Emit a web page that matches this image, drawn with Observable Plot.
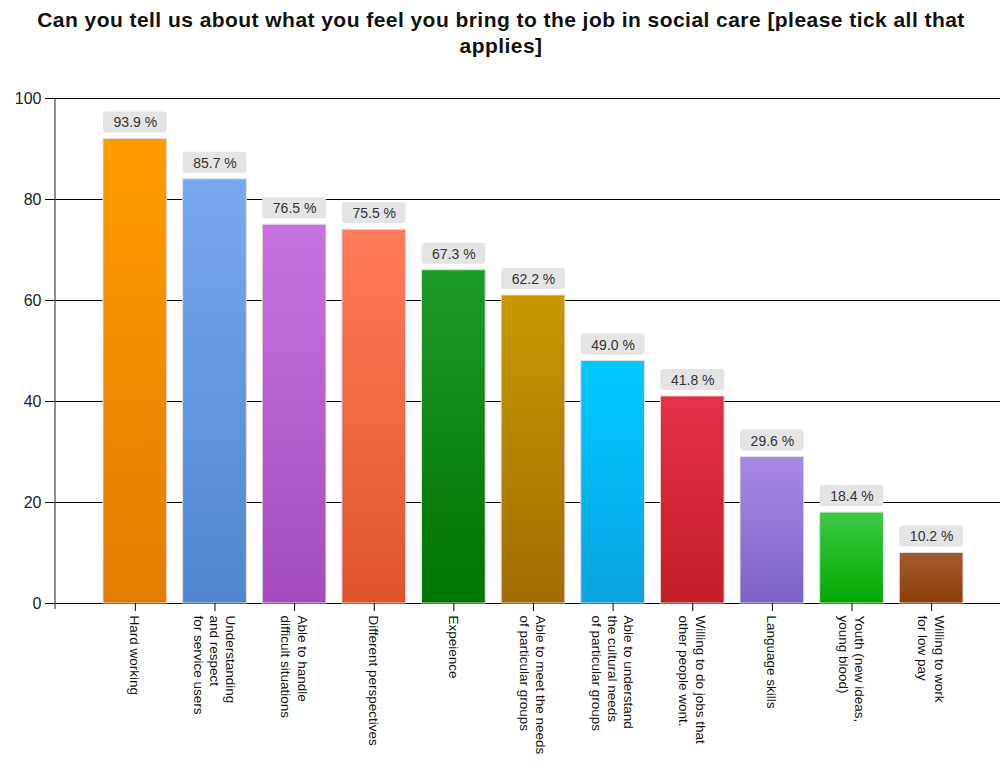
<!DOCTYPE html>
<html><head><meta charset="utf-8">
<script src="https://cdn.jsdelivr.net/npm/d3@7"></script>
<script src="https://cdn.jsdelivr.net/npm/@observablehq/plot@0.6"></script>
<style>
body{margin:0;background:#fff;font-family:"Liberation Sans",Arial,sans-serif;}
#title{height:60px;width:1002px;text-align:center;font-weight:bold;font-size:21px;letter-spacing:0.45px;line-height:26px;padding-top:7px;box-sizing:border-box;color:#111;}
#chart svg{display:block;}
</style></head><body>
<div id="title">Can you tell us about what you feel you bring to the job in social care [please tick all that<br>applies]</div>
<div id="chart"></div>
<script>
const categories = [
  "Hard working",
  "Understanding\nand respect\nfor service users",
  "Able to handle\ndifficult situations",
  "Different perspectives",
  "Expeience",
  "Able to meet the needs\nof particular groups",
  "Able to understand\nthe cultural needs\nof particular groups",
  "Willing to do jobs that\nother people wont.",
  "Language skills",
  "Youth (new ideas,\nyoung blood)",
  "Willing to work\nfor low pay"
];
const counts = [92, 84, 75, 74, 66, 61, 48, 41, 29, 18, 10];
const percentLabels = ["93.9 %", "85.7 %", "76.5 %", "75.5 %", "67.3 %", "62.2 %", "49.0 %", "41.8 %", "29.6 %", "18.4 %", "10.2 %"];
const topColors = ["#ff9d00", "#78a8f0", "#c873e0", "#ff7d58", "#1e9a2a", "#c99800", "#00c8ff", "#e4304c", "#a888e6", "#3ccc44", "#a85a30"];
const bottomColors = ["#e27c00", "#4f86cf", "#a44cbf", "#e0542c", "#007400", "#a26e00", "#0aa4e0", "#c41e26", "#7c62c8", "#00a800", "#8c3d0a"];
const yTicks = [0, 20, 40, 60, 80, 100];

const data = categories.map((c, i) => ({category: c, count: counts[i], label: percentLabels[i], fill: `url(#grad${i})`}));

const axisLine = (index, scales, values, dims) => {
  const l = d3.create("svg:line")
    .attr("x1", dims.marginLeft).attr("x2", dims.marginLeft)
    .attr("y1", scales.y(100)).attr("y2", scales.y(0) + 6)
    .attr("stroke", "#444").attr("stroke-width", 1.2);
  return l.node();
};

const chart = Plot.plot({
  width: 1002, height: 706,
  marginLeft: 55, marginRight: 2, marginTop: 38, marginBottom: 163,
  style: {fontFamily: '"Liberation Sans", Arial, sans-serif', background: "white"},
  x: {domain: categories, insetLeft: 48, insetRight: 37, paddingInner: 0.2, paddingOuter: 0, round: false, axis: null},
  y: {domain: [0, 100], axis: null},
  color: {type: "identity"},
  marks: [
    Plot.ruleY(yTicks, {stroke: "#000", strokeWidth: 1}),
    Plot.barY(data, {x: "category", y: "count", fill: "fill", stroke: "#dedede", strokeWidth: 1}),
    Plot.barY(data, {x: "category", y1: "count", y2: "count", insetTop: -27, insetBottom: 6, fill: "#e4e4e4", rx: 3}),
    Plot.text(data, {x: "category", y: "count", dy: -16, text: "label", fontSize: 14, fill: "#333"}),
    Plot.axisY({ticks: yTicks, tickSize: 10, tickPadding: 4, fontSize: 16, stroke: "#000", fill: "#222", label: null}),
    Plot.axisX({tickSize: 8, stroke: "#000", tickFormat: () => "", label: null}),
    axisLine,
    Plot.text(categories, {x: d => d, frameAnchor: "bottom", rotate: 90, textAnchor: "start", lineAnchor: "middle", dy: 12, fontSize: 13.5, lineHeight: 1.2, fill: "#111"})
  ]
});

const defs = d3.select(chart).insert("defs", ":first-child");
categories.forEach((c, i) => {
  const g = defs.append("linearGradient").attr("id", `grad${i}`)
    .attr("x1", 0).attr("y1", 0).attr("x2", 0).attr("y2", 1);
  g.append("stop").attr("offset", "0%").attr("stop-color", topColors[i]);
  g.append("stop").attr("offset", "100%").attr("stop-color", bottomColors[i]);
});
document.getElementById("chart").appendChild(chart);
</script>
</body></html>
